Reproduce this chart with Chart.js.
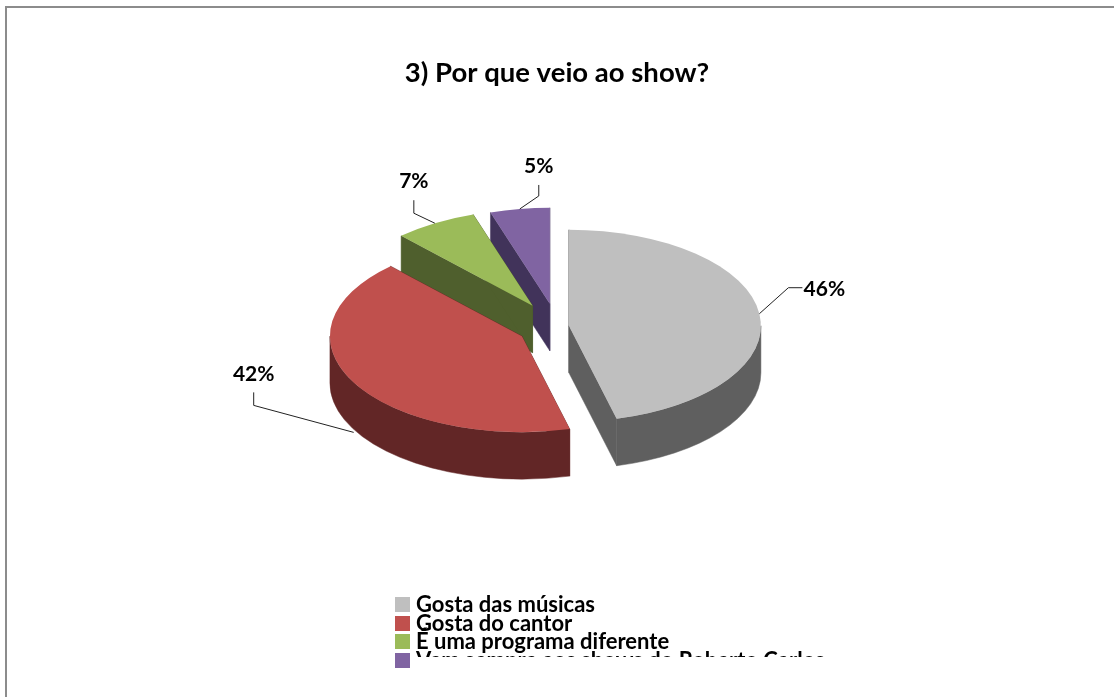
<!DOCTYPE html>
<html>
<head>
<meta charset="utf-8">
<title>3) Por que veio ao show?</title>
<script src="https://cdn.jsdelivr.net/npm/chart.js@4/dist/chart.umd.js"></script>
<style>
	html, body { margin: 0; padding: 0; background: #fff; overflow: hidden; }
	#wrap { position: relative; width: 1114px; height: 697px; }
	#frame { position: absolute; left: 5px; top: 6px; right: 0; bottom: 0; border-left: 2px solid #8c8c8c; border-top: 2px solid #8c8c8c; }
	canvas { position: absolute; left: 0; top: 0; }
</style>
</head>
<body>
<div id="wrap">
	<div id="frame"></div>
	<canvas id="chart" width="1114" height="697"></canvas>
</div>
<script>
//chart values
const title = '3) Por que veio ao show?';
const categories = ['Gosta das músicas', 'Gosta do cantor', 'É uma programa diferente', 'Vem sempre aos shows do Roberto Carlos'];
const values = [46, 42, 7, 5];
const topColors = ['#bfbfbf', '#c0504d', '#9bbb59', '#8064a2'];
const sideColors = ['#5f5f5f', '#622626', '#4f5f2d', '#41335a'];

const fontName = 'Lato, "Open Sans", sans-serif';

//how the pie is tilted and pulled apart
const squash = 0.5;
const depth = 47;
const explode = [12, 40, 48, 46];

//leader lines, relative to the rim point of each slice
const leaders = [
	{ drop: 0, elbow: [29, -26], end: [43, -26], text: [65, -24] },
	{ drop: 50, elbow: [-100, -27], end: [-100, -40], text: [-100, -58] },
	{ drop: 0, elbow: [-21, -10], end: [-21, -23], text: [-21, -42] },
	{ drop: 0, elbow: [19, -13], end: [19, -24], text: [19, -43] }
];

function tilt(ctx, arc){
	ctx.translate(arc.x, arc.y);
	ctx.scale(1, squash);
	ctx.translate(-arc.x, -arc.y);
}

function pull(arc, i){
	const mid = (arc.startAngle + arc.endAngle) / 2;
	return { mid: mid, x: Math.cos(mid) * explode[i], y: Math.sin(mid) * explode[i] };
}

//the wall under one slice: both straight edges and the front part of the rim
function drawSide(ctx, arc, i){
	const off = pull(arc, i);
	const r = arc.outerRadius;
	const cx = arc.x + off.x;
	const cy = arc.y + off.y * squash;

	ctx.fillStyle = sideColors[i];
	ctx.strokeStyle = sideColors[i];
	ctx.lineWidth = 0.5;

	[arc.startAngle, arc.endAngle].forEach(a => {
		const ex = cx + Math.cos(a) * r;
		const ey = cy + Math.sin(a) * r * squash;
		ctx.beginPath();
		ctx.moveTo(cx, cy);
		ctx.lineTo(ex, ey);
		ctx.lineTo(ex, ey + depth);
		ctx.lineTo(cx, cy + depth);
		ctx.closePath();
		ctx.fill();
		ctx.stroke();
	});

	const from = Math.max(arc.startAngle, 0);
	const to = Math.min(arc.endAngle, Math.PI);
	if(to > from){
		ctx.beginPath();
		ctx.ellipse(cx, cy, r, r * squash, 0, from, to);
		ctx.ellipse(cx, cy + depth, r, r * squash, 0, to, from, true);
		ctx.closePath();
		ctx.fill();
		ctx.stroke();
	}
}

//draws the slices back to front, each one with its side wall first
const pie3d = {
	id: 'pie3d',
	beforeDatasetDraw(chart, args){
		const ctx = chart.ctx;
		const arcs = args.meta.data;
		for(let i = arcs.length - 1; i >= 0; i--){
			const arc = arcs[i];
			const off = pull(arc, i);
			drawSide(ctx, arc, i);
			ctx.save();
			tilt(ctx, arc);
			ctx.translate(off.x, off.y);
			arc.draw(ctx);
			ctx.restore();
		}
		return false;
	},
	afterDatasetsDraw(chart){
		const ctx = chart.ctx;
		const arcs = chart.getDatasetMeta(0).data;
		arcs.forEach((arc, i) => {
			const off = pull(arc, i);
			const l = leaders[i];
			const x = arc.x + off.x + Math.cos(off.mid) * arc.outerRadius;
			const y = arc.y + (off.y + Math.sin(off.mid) * arc.outerRadius) * squash + l.drop;
			ctx.save();
			ctx.strokeStyle = '#222';
			ctx.lineWidth = 1;
			ctx.beginPath();
			ctx.moveTo(x, y);
			ctx.lineTo(x + l.elbow[0], y + l.elbow[1]);
			ctx.lineTo(x + l.end[0], y + l.end[1]);
			ctx.stroke();
			ctx.fillStyle = '#000';
			ctx.font = 'bold 21px ' + fontName;
			ctx.textAlign = 'center';
			ctx.textBaseline = 'middle';
			ctx.fillText(values[i] + '%', x + l.text[0], y + l.text[1]);
			ctx.restore();
		});
	}
};

//the legend box is too short for four rows, so the last text gets cut off
const tightLegend = {
	id: 'tightLegend',
	afterDraw(chart){
		const ctx = chart.ctx;
		ctx.save();
		categories.forEach((name, i) => {
			const top = 597 + i * 18.7;
			ctx.fillStyle = topColors[i];
			ctx.fillRect(395, Math.round(top), 15, 15);
		});
		ctx.beginPath();
		ctx.rect(380, 585, 520, 72);
		ctx.clip();
		ctx.fillStyle = '#000';
		ctx.font = 'bold 22px ' + fontName;
		ctx.textBaseline = 'middle';
		categories.forEach((name, i) => {
			ctx.fillText(name, 416, 605 + i * 18.7);
		});
		ctx.restore();
	}
};

new Chart(document.getElementById('chart'), {
	type: 'pie',
	data: {
		labels: categories,
		datasets: [{
			data: values,
			backgroundColor: topColors,
			borderWidth: 0
		}]
	},
	options: {
		responsive: false,
		animation: false,
		radius: 192,
		layout: { padding: { bottom: 145 } },
		plugins: {
			legend: { display: false },
			tooltip: { enabled: false },
			title: {
				display: true,
				text: title,
				color: '#000',
				font: { family: fontName, size: 27.5, weight: 'bold' },
				padding: { top: 57, bottom: 11 }
			}
		}
	},
	plugins: [pie3d, tightLegend]
});
</script>
</body>
</html>
